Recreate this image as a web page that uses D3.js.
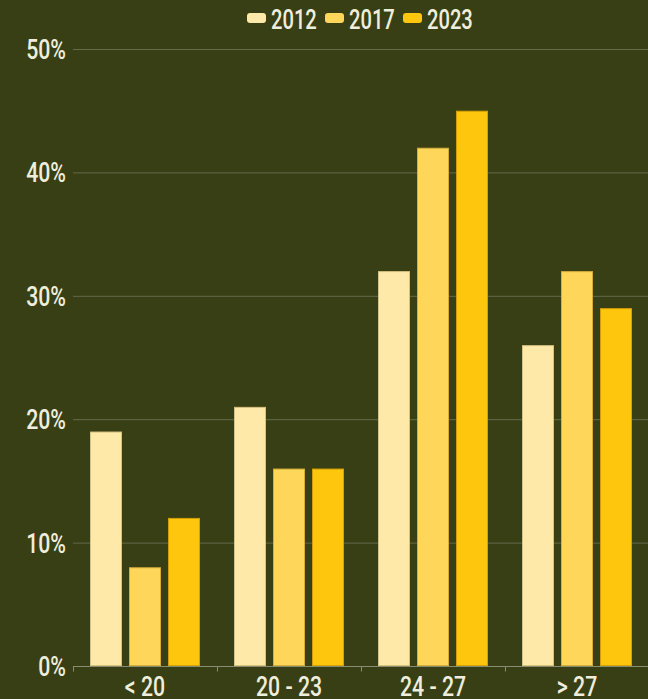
<!DOCTYPE html>
<html>
<head>
<meta charset="utf-8">
<script src="https://cdn.jsdelivr.net/npm/d3@7"></script>
<style>
  html, body { margin: 0; padding: 0; background: #383f14; }
  text { font-family: "Roboto", sans-serif; font-weight: 500; fill: #efeedd; }
</style>
</head>
<body>
<div id="chart"></div>
<script>
// data
var categories = ["< 20", "20 - 23", "24 - 27", "> 27"];
var seriesNames = ["2012", "2017", "2023"];
var values2012 = [19, 21, 32, 26];
var values2017 = [8, 16, 42, 32];
var values2023 = [12, 16, 45, 29];
var yTicks = [0, 10, 20, 30, 40, 50];

var colors = ["#ffe9a9", "#fed65a", "#fec60c"];
var strokes = ["#d8c27f", "#d4ad3a", "#d2a008"];

var width = 648, height = 699;
var margin = { top: 49, right: -1, bottom: 33, left: 73 };
var squeeze = 0.76; // condensed look of the original font

var svg = d3.select("#chart").append("svg")
    .attr("width", width)
    .attr("height", height);

svg.append("rect")
    .attr("width", width).attr("height", height)
    .attr("fill", "#383f14");

var x0 = d3.scaleBand()
    .domain(categories)
    .range([margin.left, width - margin.right]);

var x1 = d3.scaleBand()
    .domain(seriesNames)
    .range([17, x0.bandwidth() - 17])
    .paddingInner(0.18);

var y = d3.scaleLinear()
    .domain([0, 50])
    .range([height - margin.bottom, margin.top]);

// gridlines
svg.append("g")
    .selectAll("line")
    .data(yTicks.slice(1))
    .enter().append("line")
    .attr("x1", margin.left).attr("x2", width)
    .attr("y1", function (d) { return y(d) + 0.5; })
    .attr("y2", function (d) { return y(d) + 0.5; })
    .attr("stroke", "#66694c")
    .attr("stroke-width", 1);

// y labels
svg.append("g")
    .selectAll("text")
    .data(yTicks)
    .enter().append("text")
    .attr("transform", function (d) { return "translate(66," + (y(d) + 10) + ") scale(" + squeeze + ",1)"; })
    .attr("text-anchor", "end")
    .style("font-size", "28px")
    .text(function (d) { return d + "%"; });

// bars
var rows = categories.map(function (c, i) {
    return { cat: c, vals: [values2012[i], values2017[i], values2023[i]] };
});

var groups = svg.append("g")
    .selectAll("g")
    .data(rows)
    .enter().append("g")
    .attr("transform", function (d) { return "translate(" + x0(d.cat) + ",0)"; });

groups.selectAll("rect")
    .data(function (d) {
        return d.vals.map(function (v, j) { return { key: seriesNames[j], v: v, j: j }; });
    })
    .enter().append("rect")
    .attr("x", function (d) { return x1(d.key) + 0.5; })
    .attr("y", function (d) { return y(d.v) + 0.5; })
    .attr("width", x1.bandwidth() - 1)
    .attr("height", function (d) { return y(0) - y(d.v) - 1; })
    .attr("fill", function (d) { return colors[d.j]; })
    .attr("stroke", function (d) { return strokes[d.j]; })
    .attr("stroke-width", 1);

// x axis
var xAxis = svg.append("g")
    .attr("transform", "translate(0," + (y(0) + 0.5) + ")");

xAxis.append("line")
    .attr("x1", margin.left).attr("x2", width)
    .attr("stroke", "#8a8c70").attr("stroke-width", 1);

xAxis.selectAll("line.tick")
    .data(categories)
    .enter().append("line")
    .attr("class", "tick")
    .attr("x1", function (d) { return x0(d) + 0.5; })
    .attr("x2", function (d) { return x0(d) + 0.5; })
    .attr("y1", 0).attr("y2", 5)
    .attr("stroke", "#8a8c70");

xAxis.selectAll("text")
    .data(categories)
    .enter().append("text")
    .attr("transform", function (d) {
        return "translate(" + (x0(d) + x0.bandwidth() / 2) + ",29) scale(" + squeeze + ",1)";
    })
    .attr("text-anchor", "middle")
    .style("font-size", "28px")
    .text(function (d) { return d; });

// legend
var legendX = [247, 325, 403];
var legend = svg.append("g")
    .selectAll("g")
    .data(seriesNames)
    .enter().append("g")
    .attr("transform", function (d, i) { return "translate(" + legendX[i] + ",0)"; });

legend.append("rect")
    .attr("x", 0).attr("y", 13)
    .attr("width", 19).attr("height", 10)
    .attr("rx", 3)
    .attr("fill", function (d, i) { return colors[i]; });

legend.append("text")
    .attr("transform", "translate(24,29) scale(0.72,1)")
    .style("font-size", "28px")
    .text(function (d) { return d; });
</script>
</body>
</html>
